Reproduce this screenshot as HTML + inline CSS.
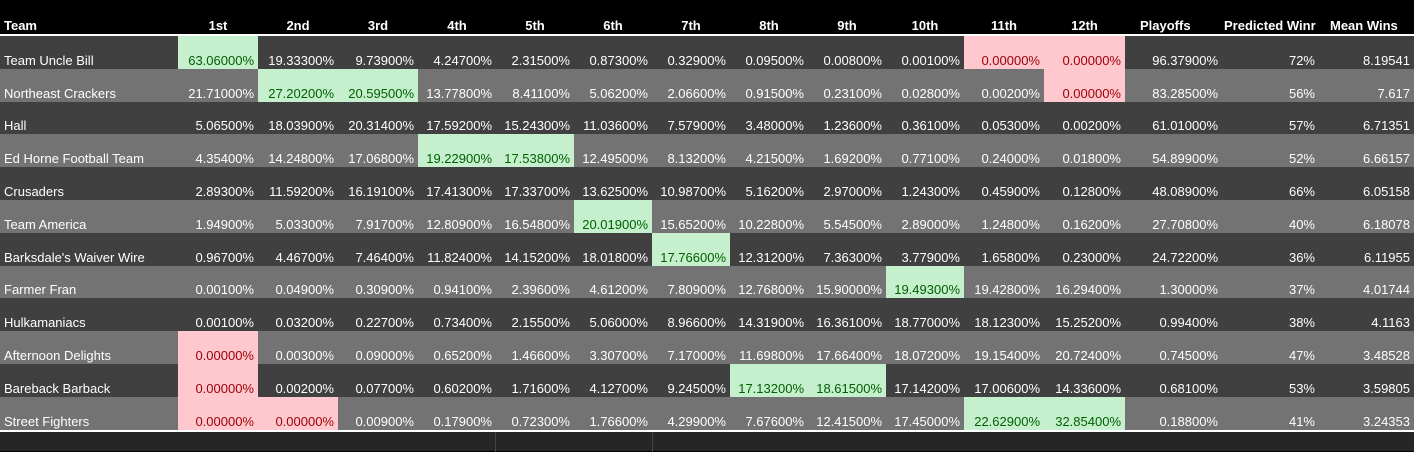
<!DOCTYPE html>
<html><head><meta charset="utf-8"><style>
body{margin:0;width:1414px;height:451px;background:#000;overflow:hidden;font-family:"Liberation Sans",sans-serif;}
#t{position:absolute;left:0;top:0;width:1414px;height:451px;}
.c{position:absolute;box-sizing:border-box;font-size:13px;color:#fff;white-space:nowrap;overflow:hidden;padding:0 4px;line-height:15px;}
.h{font-weight:bold;font-size:13px;}
.g{background:#c6efce;color:#006100;}
.p{background:#ffc7ce;color:#9c0006;}
</style></head><body>
<div id="t"></div>
<script>
const headers=["Team","1st","2nd","3rd","4th","5th","6th","7th","8th","9th","10th","11th","12th","Playoffs","Predicted Winr","Mean Wins"];
const teams=["Team Uncle Bill","Northeast Crackers","Hall","Ed Horne Football Team","Crusaders","Team America","Barksdale's Waiver Wire","Farmer Fran","Hulkamaniacs","Afternoon Delights","Bareback Barback","Street Fighters"];
const places=[
["63.06000%","19.33300%","9.73900%","4.24700%","2.31500%","0.87300%","0.32900%","0.09500%","0.00800%","0.00100%","0.00000%","0.00000%"],
["21.71000%","27.20200%","20.59500%","13.77800%","8.41100%","5.06200%","2.06600%","0.91500%","0.23100%","0.02800%","0.00200%","0.00000%"],
["5.06500%","18.03900%","20.31400%","17.59200%","15.24300%","11.03600%","7.57900%","3.48000%","1.23600%","0.36100%","0.05300%","0.00200%"],
["4.35400%","14.24800%","17.06800%","19.22900%","17.53800%","12.49500%","8.13200%","4.21500%","1.69200%","0.77100%","0.24000%","0.01800%"],
["2.89300%","11.59200%","16.19100%","17.41300%","17.33700%","13.62500%","10.98700%","5.16200%","2.97000%","1.24300%","0.45900%","0.12800%"],
["1.94900%","5.03300%","7.91700%","12.80900%","16.54800%","20.01900%","15.65200%","10.22800%","5.54500%","2.89000%","1.24800%","0.16200%"],
["0.96700%","4.46700%","7.46400%","11.82400%","14.15200%","18.01800%","17.76600%","12.31200%","7.36300%","3.77900%","1.65800%","0.23000%"],
["0.00100%","0.04900%","0.30900%","0.94100%","2.39600%","4.61200%","7.80900%","12.76800%","15.90000%","19.49300%","19.42800%","16.29400%"],
["0.00100%","0.03200%","0.22700%","0.73400%","2.15500%","5.06000%","8.96600%","14.31900%","16.36100%","18.77000%","18.12300%","15.25200%"],
["0.00000%","0.00300%","0.09000%","0.65200%","1.46600%","3.30700%","7.17000%","11.69800%","17.66400%","18.07200%","19.15400%","20.72400%"],
["0.00000%","0.00200%","0.07700%","0.60200%","1.71600%","4.12700%","9.24500%","17.13200%","18.61500%","17.14200%","17.00600%","14.33600%"],
["0.00000%","0.00000%","0.00900%","0.17900%","0.72300%","1.76600%","4.29900%","7.67600%","12.41500%","17.45000%","22.62900%","32.85400%"]];
const playoffs=["96.37900%","83.28500%","61.01000%","54.89900%","48.08900%","27.70800%","24.72200%","1.30000%","0.99400%","0.74500%","0.68100%","0.18800%"];
const predicted=["72%","56%","57%","52%","66%","40%","36%","37%","38%","47%","53%","41%"];
const meanWins=["8.19541","7.617","6.71351","6.66157","6.05158","6.18078","6.11955","4.01744","4.1163","3.48528","3.59805","3.24353"];
const greens=[[0,0],[1,1],[1,2],[3,3],[3,4],[5,5],[6,6],[7,9],[10,7],[10,8],[11,10],[11,11]];
const pinks=[[0,10],[0,11],[1,11],[9,0],[10,0],[11,0],[11,1]];
const edges=[0,178,258,338,418,496,574,652,730,808,886,964,1044,1125,1222,1325,1414];
const T=document.getElementById('t');
const top0=36,rh=32.8;
function cell(x,y,w,h,txt,align,cls,bg){
 const d=document.createElement('div');
 d.className='c '+(cls||'');
 d.style.left=x+'px';d.style.top=y+'px';d.style.width=w+'px';d.style.height=h+'px';
 d.style.textAlign=align;d.style.paddingTop=(h-16)+'px';
 if(bg)d.style.background=bg;
 d.textContent=txt;T.appendChild(d);return d;
}
headers.forEach((h,i)=>{
 const al=i==0||i>=13?'left':'center';
 const d=cell(edges[i],0,edges[i+1]-edges[i],34,h,al,'h');
 if(i>=13)d.style.paddingLeft=(i==13?15:i==14?2:5)+'px';
 
 
});
const line=document.createElement('div');
line.style.cssText='position:absolute;left:0;top:34px;width:1414px;height:2px;background:#fff';


T.appendChild(line);
teams.forEach((tm,r)=>{
 const y=Math.round(top0+r*rh),h=Math.round(top0+(r+1)*rh)-y;
 const bg=r%2?'#737373':'#404040';
 const row=document.createElement('div');
 row.style.cssText=`position:absolute;left:0;top:${y}px;width:1414px;height:${h}px;background:${bg}`;
 
 
 T.appendChild(row);
 const n=cell(0,y,178,h,tm,'left');
 
 
 places[r].forEach((v,c)=>{
  let cls='';
  if(greens.some(g=>g[0]==r&&g[1]==c))cls='g';
  if(pinks.some(g=>g[0]==r&&g[1]==c))cls='p';
  const d=cell(edges[c+1],y,edges[c+2]-edges[c+1],h,v,'right',cls);
  
  
 });
 const a=cell(edges[13],y,edges[14]-edges[13],h,playoffs[r],'right');
 
 
 const b=cell(edges[14],y,edges[15]-edges[14],h,predicted[r],'right');
 b.style.paddingRight='10px';
 
 
 const m=cell(edges[15],y,edges[16]-edges[15],h,meanWins[r],'right');
 
 
});
const yb=Math.round(top0+12*rh);
const l2=document.createElement('div');
l2.style.cssText=`position:absolute;left:0;top:${yb}px;width:1414px;height:2px;background:#fff`;


T.appendChild(l2);
const f=document.createElement('div');
f.style.cssText=`position:absolute;left:0;top:${yb+2}px;width:1414px;height:${451-yb-2}px;background:#262626`;


T.appendChild(f);
[495,652].forEach(x=>{const v=document.createElement('div');
v.style.cssText=`position:absolute;left:${x}px;top:${yb+2}px;width:1px;height:20px;background:#444`;


T.appendChild(v);});
</script>
</body></html>
